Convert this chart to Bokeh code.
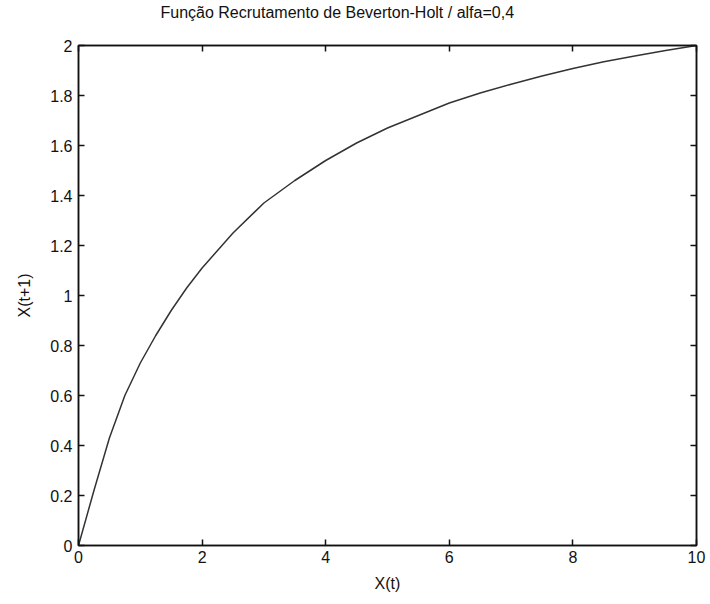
from bokeh.plotting import figure
from bokeh.models import LinearAxis, FixedTicker, Range1d
from bokeh.embed import file_html
from bokeh.resources import INLINE

# Data
x_t = [0, 0.25, 0.5, 0.75, 1, 1.25, 1.5, 1.75, 2, 2.5, 3, 3.5, 4, 4.5, 5, 5.5, 6, 6.5, 7, 7.5, 8, 8.5, 9, 9.5, 10]
x_t1 = [0, 0.22, 0.43, 0.60, 0.73, 0.84, 0.94, 1.03, 1.11, 1.25, 1.37, 1.46, 1.54, 1.61, 1.67, 1.72, 1.77, 1.81, 1.845, 1.878, 1.908, 1.935, 1.958, 1.98, 2.0]

x_ticks = [0, 2, 4, 6, 8, 10]
y_ticks = [0, 0.2, 0.4, 0.6, 0.8, 1, 1.2, 1.4, 1.6, 1.8, 2]
y_tick_labels = ["0", "0.2", "0.4", "0.6", "0.8", "1", "1.2", "1.4", "1.6", "1.8", "2"]

title_text = "Função Recrutamento de Beverton-Holt / alfa=0,4"
x_label = "X(t)"
y_label = "X(t+1)"

FONT = "Liberation Sans"

p = figure(width=710, height=604, output_backend="svg", toolbar_location=None,
           x_range=Range1d(0, 10), y_range=Range1d(0, 2),
           min_border_left=78, min_border_right=14, min_border_top=45, min_border_bottom=59,
           title=title_text)
p.title.align = "left"
p.title.offset = 82
p.title.text_font = FONT
p.title.text_font_size = "16px"
p.title.text_font_style = "normal"
p.title.text_color = "#111111"
p.title.standoff = 2
try:
    p.title.padding = dict(top=0, right=0, bottom=24, left=0)
except Exception:
    p.title.standoff = 10

p.grid.visible = False
p.outline_line_color = "#111111"
p.outline_line_width = 1.5
p.background_fill_color = "white"
p.border_fill_color = "white"

p.line(x_t, x_t1, line_color="#333333", line_width=1.5)

def style_axis(ax):
    ax.axis_line_color = "#111111"
    ax.axis_line_width = 1.5
    ax.major_tick_in = 6
    ax.major_tick_out = 0
    ax.major_tick_line_color = "#111111"
    ax.major_tick_line_width = 1.5
    ax.minor_tick_line_color = None
    ax.major_label_text_font = FONT
    ax.major_label_text_color = "#111111"
    ax.major_label_text_font_size = "16px"

p.xaxis.ticker = FixedTicker(ticks=x_ticks)
p.yaxis.ticker = FixedTicker(ticks=y_ticks)
p.yaxis.major_label_overrides = {t: l for t, l in zip(y_ticks, y_tick_labels)}
style_axis(p.xaxis[0])
style_axis(p.yaxis[0])
p.xaxis.major_label_standoff = 5
p.yaxis.major_label_standoff = 6
p.xaxis.axis_label = x_label
p.yaxis.axis_label = y_label
for ax in (p.xaxis[0], p.yaxis[0]):
    ax.axis_label_text_font = FONT
    ax.axis_label_text_font_size = "16px"
    ax.axis_label_text_font_style = "normal"
    ax.axis_label_text_color = "#111111"
p.xaxis.axis_label_standoff = 9
p.yaxis.axis_label_standoff = 14

# box ticks on top and right (no labels)
top_ax = LinearAxis(ticker=FixedTicker(ticks=x_ticks))
right_ax = LinearAxis(ticker=FixedTicker(ticks=y_ticks))
for ax, ticks in ((top_ax, x_ticks), (right_ax, y_ticks)):
    style_axis(ax)
    ax.major_label_overrides = {t: "" for t in ticks}
    ax.major_label_text_font_size = "1px"
    ax.major_label_standoff = 0
p.add_layout(top_ax, "above")
p.add_layout(right_ax, "right")

open("out.html", "w").write(file_html(p, INLINE))
